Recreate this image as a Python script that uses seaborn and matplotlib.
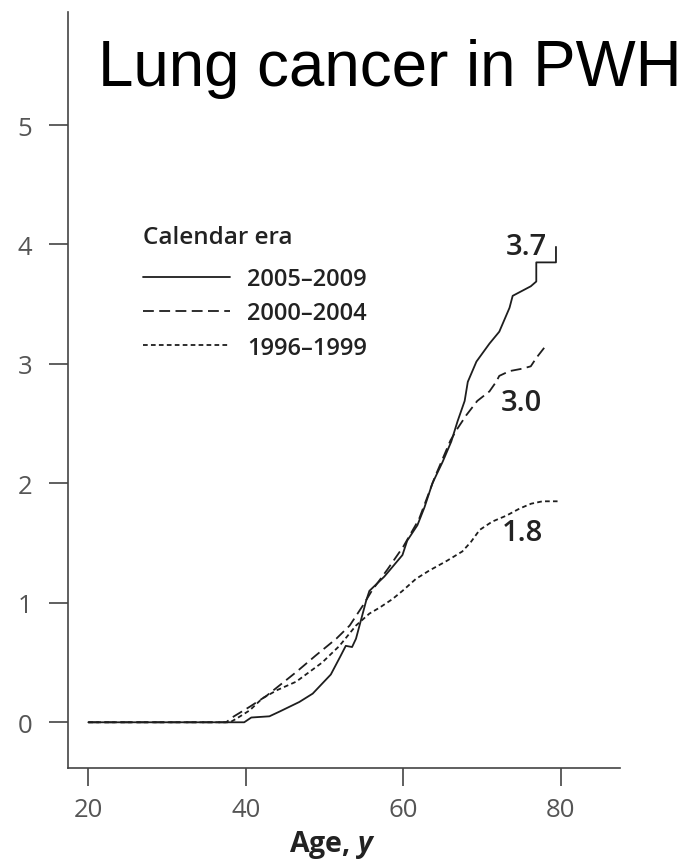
import numpy as np
import pandas as pd
import matplotlib
matplotlib.use("Agg")
import matplotlib.pyplot as plt
import seaborn as sns

# ---------------- data ----------------
era_labels = ["2005\u20132009", "2000\u20132004", "1996\u20131999"]

age_2005 = [20, 39.8, 40.7, 43.0, 44.3, 46.8, 48.5, 50.8, 52.0, 52.7, 53.5, 54.0, 55.3, 55.7,
            57.6, 59.9, 60.5, 61.8, 62.7, 63.7, 65.0, 66.1, 66.9, 67.8, 68.2, 69.3, 70.95,
            72.2, 73.5, 73.9, 76.2, 76.9, 76.9, 79.4, 79.4]
val_2005 = [0, 0, 0.04, 0.05, 0.09, 0.17, 0.24, 0.40, 0.55, 0.64, 0.63, 0.70, 1.02, 1.10,
            1.22, 1.40, 1.52, 1.65, 1.80, 2.00, 2.18, 2.35, 2.52, 2.69, 2.85, 3.02, 3.17,
            3.27, 3.47, 3.57, 3.65, 3.69, 3.85, 3.85, 3.98]

age_2000 = [20, 37.5, 38.5, 40.5, 42.6, 44.5, 46.4, 48.9, 51.5, 53.2, 54.9, 56.0, 58.0,
            60.0, 62.0, 64.0, 66.0, 66.9, 68.0, 69.4, 70.95, 71.8, 72.2, 73.5, 75.1, 76.2,
            76.9, 78.2]
val_2000 = [0, 0, 0.05, 0.13, 0.22, 0.32, 0.42, 0.56, 0.70, 0.81, 0.98, 1.10, 1.28,
            1.47, 1.70, 2.05, 2.36, 2.46, 2.57, 2.69, 2.77, 2.85, 2.90, 2.94, 2.96, 2.98,
            3.05, 3.16]

age_1996 = [20, 38.0, 38.8, 40.5, 42.1, 44.0, 46.4, 49.7, 51.9, 54.0, 55.7, 57.0, 58.6,
            59.9, 61.6, 63.3, 65.5, 67.5, 68.6, 69.7, 71.3, 73.1, 74.8, 76.25, 77.7, 79.6]
val_1996 = [0, 0, 0.03, 0.10, 0.20, 0.27, 0.34, 0.50, 0.64, 0.81, 0.91, 0.96, 1.03,
            1.10, 1.20, 1.27, 1.35, 1.43, 1.51, 1.61, 1.68, 1.73, 1.79, 1.83, 1.85, 1.85]

end_labels = ["3.7", "3.0", "1.8"]
end_label_x = [75.6, 75.05, 75.15]
end_label_y = [3.98, 2.68, 1.585]

x_ticks = [20, 40, 60, 80]
y_ticks = [0, 1, 2, 3, 4, 5]

title_text = "Lung cancer in PWH"
x_label = r"Age, $\mathit{y}$"
legend_title = "Calendar era"

# ---------------- style ----------------
sns.set_theme(style="ticks")
plt.rcParams["font.family"] = ["Open Sans", "DejaVu Sans"]
plt.rcParams["mathtext.fontset"] = "custom"
plt.rcParams["mathtext.rm"] = "Open Sans:bold"
plt.rcParams["mathtext.it"] = "Open Sans:italic:bold"
plt.rcParams["mathtext.bf"] = "Open Sans:bold"

line_color = "#1e1e1e"
axis_color = "#444444"
text_grey = "#555555"

fig = plt.figure(figsize=(6.84, 8.62), dpi=100)
ax = fig.add_axes([0.0999, 0.1079, 0.8065, 0.8770])

series = [(age_2005, val_2005, "-"),
          (age_2000, val_2000, (0, (6, 3))),
          (age_1996, val_1996, (0, (2.6, 1.8)))]
for (a, v, ls), lab in zip(series, era_labels):
    df = pd.DataFrame({"age": a, "value": v})
    sns.lineplot(data=df, x="age", y="value", ax=ax, color=line_color,
                 linewidth=1.3, linestyle=ls, label=lab, sort=False,
                 estimator=None)

for t, xx, yy in zip(end_labels, end_label_x, end_label_y):
    ax.text(xx, yy, t, ha="center", va="center", fontsize=21,
            fontweight="semibold", color="#222222")

ax.set_xlim(17.46, 87.53)
ax.set_ylim(-0.3826, 5.946)
ax.set_xticks(x_ticks)
ax.set_yticks(y_ticks)
ax.set_xticklabels([str(v) for v in x_ticks])
ax.set_yticklabels([str(v) for v in y_ticks])
ax.tick_params(axis="y", length=14, width=1.2, color=axis_color, pad=12,
               labelsize=18.5, labelcolor=text_grey)
ax.tick_params(axis="x", length=13, width=1.2, color=axis_color, pad=8,
               labelsize=18.5, labelcolor=text_grey)
sns.despine(ax=ax)
for s in ["left", "bottom"]:
    ax.spines[s].set_color(axis_color)
    ax.spines[s].set_linewidth(1.2)

ax.set_ylabel("")
ax.set_xlabel(x_label, fontsize=20.5, fontweight="bold", color="#222222")
ax.xaxis.set_label_coords(0.479, -0.079)

handles, labels = ax.get_legend_handles_labels()
leg = ax.legend(handles, labels, title=legend_title, loc="upper left",
                bbox_to_anchor=(0.1354, 0.718), frameon=False, fontsize=17,
                title_fontsize=17.5, alignment="left", handlelength=3.7,
                handletextpad=0.7, labelspacing=0.43, borderpad=0,
                borderaxespad=0)
leg._legend_box.sep = 13
for txt in leg.get_texts():
    txt.set_color("#222222")
    txt.set_fontweight("semibold")
leg.get_title().set_color("#222222")
leg.get_title().set_fontweight("semibold")

fig.text(0.1433, 0.9002, title_text, fontsize=45.8, family="Liberation Sans",
         color="black", va="baseline", ha="left")

fig.savefig("out.png", dpi=100, facecolor="white")
